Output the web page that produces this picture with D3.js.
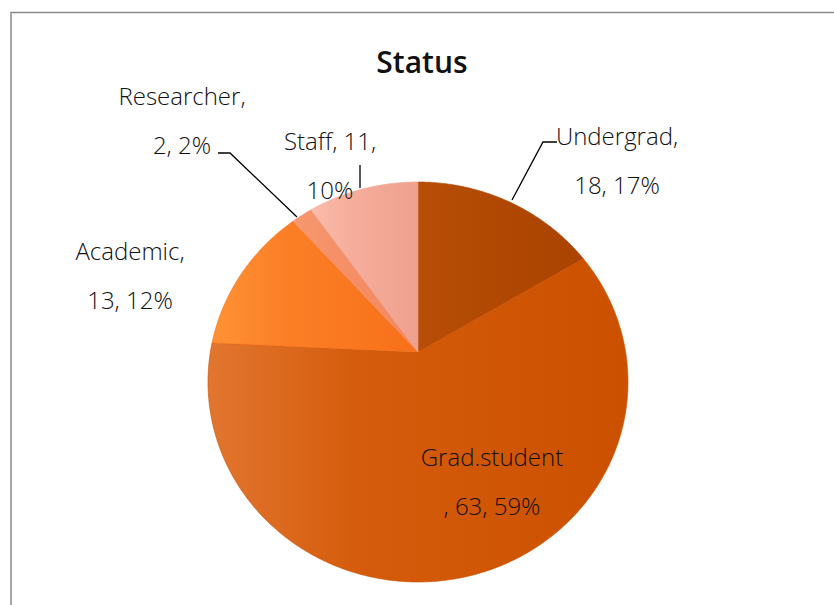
<!DOCTYPE html>
<html>
<head>
<meta charset="utf-8">
<script src="https://cdn.jsdelivr.net/npm/d3@7"></script>
<style>
  html, body { margin: 0; padding: 0; background: #ffffff; }
  svg { display: block; }
  text { font-family: "Open Sans", "Noto Sans", sans-serif; fill: #111; }
</style>
</head>
<body>
<svg id="chart" width="834" height="605"></svg>
<script>
// ---- data ----
const categories = ["Undergrad", "Grad.student", "Academic", "Researcher", "Staff"];
const counts = [18, 63, 13, 2, 11];
const percents = ["17%", "59%", "12%", "2%", "10%"];
const title = "Status";
// label lines as shown in the chart
const labelLines = [
  ["Undergrad,", "18, 17%"],
  ["Grad.student", ", 63, 59%"],
  ["Academic,", "13, 12%"],
  ["Researcher,", "2, 2%"],
  ["Staff, 11,", "10%"]
];

// ---- styles / layout ----
const colorsLeft  = ["#b84e08", "#e27630", "#ff9234", "#f7986f", "#fbbcaa"];
const colorsMid   = ["#b24a04", "#d55c0c", "#fb7f26", "#f59068", "#f6ae9c"];
const colorsRight = ["#aa4300", "#cb5100", "#f7701a", "#f2885f", "#efa08e"];
const labelPos = [
  {x: 617, y: 145}, {x: 492, y: 466}, {x: 130, y: 260}, {x: 182, y: 105}, {x: 330, y: 150}
];
const leaders = [
  [[557, 142], [543, 142], [512, 200]],
  null,
  null,
  [[218, 153], [230, 153], [297, 217]],
  [[360, 165], [360, 188]]
];
const lineGap = 49;

const svg = d3.select("#chart");

// frame
svg.append("rect")
  .attr("x", 11).attr("y", 12.5).attr("width", 840).attr("height", 620)
  .attr("fill", "none").attr("stroke", "#8a8a8a").attr("stroke-width", 1.5);

// title
svg.append("text")
  .attr("x", 422).attr("y", 73).attr("text-anchor", "middle")
  .style("font-size", "30px").style("font-weight", 600)
  .text(title);

// pie geometry: tilted ellipse with the apex offset above centre
const ex = 418, ey = 382, ea = 210, eb = 200, apexY = 352;
const py = apexY - ey;
function radiusAt(theta) {
  const dx = Math.sin(theta), dy = -Math.cos(theta);
  const A = dx * dx / (ea * ea) + dy * dy / (eb * eb);
  const B = 2 * py * dy / (eb * eb);
  const C = py * py / (eb * eb) - 1;
  return (-B + Math.sqrt(B * B - 4 * A * C)) / (2 * A);
}

const pie = d3.pie().sort(null).value(d => d)(counts);
const radial = d3.lineRadial().angle(d => d[0]).radius(d => d[1]).curve(d3.curveLinear);

const defs = svg.append("defs");
categories.forEach((c, i) => {
  const g = defs.append("linearGradient").attr("id", "g" + i)
    .attr("x1", "0").attr("x2", "1").attr("y1", "0").attr("y2", "0");
  g.append("stop").attr("offset", "0%").attr("stop-color", colorsLeft[i]);
  g.append("stop").attr("offset", "35%").attr("stop-color", colorsMid[i]);
  g.append("stop").attr("offset", "100%").attr("stop-color", colorsRight[i]);
});

const pieG = svg.append("g").attr("transform", `translate(${ex},${apexY})`);
pie.forEach((p, i) => {
  const n = Math.max(8, Math.ceil((p.endAngle - p.startAngle) * 60));
  const pts = [[p.startAngle, 0]];
  for (let k = 0; k <= n; k++) {
    const t = p.startAngle + (p.endAngle - p.startAngle) * k / n;
    pts.push([t, radiusAt(t)]);
  }
  pieG.append("path")
    .attr("d", radial(pts) + "Z")
    .attr("fill", `url(#g${i})`)
    .attr("stroke", colorsRight[i]).attr("stroke-width", 0.6)
    .attr("stroke-linejoin", "round");
});

// leader lines
const lineGen = d3.line();
leaders.forEach(l => {
  if (!l) return;
  svg.append("path").attr("d", lineGen(l))
    .attr("fill", "none").attr("stroke", "#000").attr("stroke-width", 1.3);
});

// labels
labelLines.forEach((lines, i) => {
  const t = svg.append("text")
    .attr("x", labelPos[i].x).attr("y", labelPos[i].y)
    .attr("text-anchor", "middle")
    .style("font-size", "24px").style("font-weight", 300);
  lines.forEach((ln, j) => {
    t.append("tspan").attr("x", labelPos[i].x).attr("y", labelPos[i].y + j * lineGap).text(ln);
  });
});
</script>
</body>
</html>
